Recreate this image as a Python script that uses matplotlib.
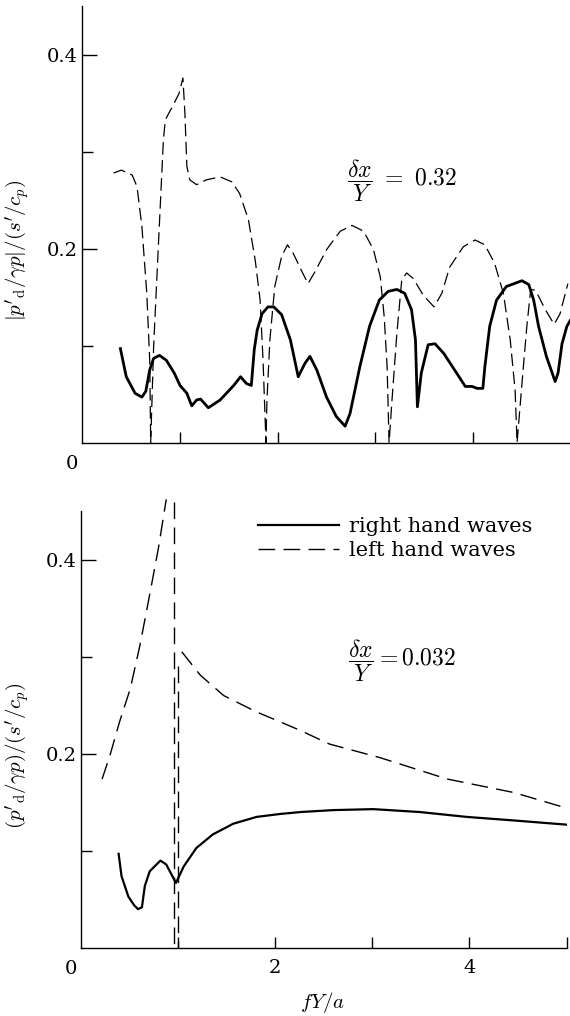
import matplotlib
matplotlib.use("Agg")
import matplotlib.pyplot as plt

plt.rcParams['font.family'] = ['DejaVu Serif']
plt.rcParams['mathtext.fontset'] = 'cm'
plt.rcParams['lines.scale_dashes'] = False

# top panel, dx/Y = 0.32
top_right_x = [0.39, 0.45, 0.54, 0.61, 0.65, 0.69, 0.73, 0.79, 0.86, 0.94, 1.00, 1.07, 1.12, 1.17,
               1.21, 1.29, 1.41, 1.55, 1.62, 1.68, 1.73, 1.76, 1.79, 1.84, 1.90, 1.96, 2.04, 2.13,
               2.21, 2.28, 2.33, 2.40, 2.50, 2.60, 2.69, 2.74, 2.84, 2.94, 3.04, 3.13, 3.22, 3.30,
               3.37, 3.41, 3.43, 3.47, 3.54, 3.61, 3.70, 3.83, 3.92, 3.99, 4.04, 4.10, 4.12, 4.17,
               4.24, 4.34, 4.50, 4.57, 4.62, 4.67, 4.75, 4.84, 4.87, 4.91, 4.96, 5.00]
top_right_y = [0.097, 0.068, 0.051, 0.047, 0.053, 0.075, 0.087, 0.090, 0.085, 0.072, 0.059, 0.051,
               0.038, 0.044, 0.045, 0.036, 0.044, 0.059, 0.068, 0.061, 0.059, 0.096, 0.116, 0.133,
               0.140, 0.140, 0.132, 0.106, 0.068, 0.082, 0.089, 0.075, 0.047, 0.027, 0.017, 0.030,
               0.078, 0.120, 0.147, 0.156, 0.158, 0.154, 0.137, 0.106, 0.037, 0.072, 0.101, 0.102,
               0.092, 0.072, 0.058, 0.058, 0.056, 0.056, 0.078, 0.120, 0.147, 0.161, 0.167, 0.163,
               0.147, 0.120, 0.089, 0.063, 0.072, 0.102, 0.120, 0.127]

top_left_x = [0.32, 0.40, 0.51, 0.56, 0.61, 0.66, 0.69, 0.70, 0.73, 0.78, 0.83, 0.85, 0.92, 0.99,
              1.03, 1.05, 1.07, 1.10, 1.17, 1.27, 1.41, 1.53, 1.61, 1.70, 1.77, 1.82, 1.85, 1.88,
              1.89, 1.92, 1.97, 2.04, 2.10, 2.16, 2.25, 2.31, 2.38, 2.50, 2.64, 2.76, 2.88, 2.98,
              3.05, 3.09, 3.12, 3.14, 3.17, 3.22, 3.27, 3.32, 3.39, 3.49, 3.60, 3.68, 3.76, 3.90,
              4.02, 4.12, 4.22, 4.31, 4.38, 4.43, 4.45, 4.50, 4.55, 4.59, 4.64, 4.74, 4.83, 4.89,
              4.97]
top_left_y = [0.278, 0.281, 0.276, 0.264, 0.223, 0.154, 0.085, 0.0, 0.099, 0.206, 0.312, 0.333,
              0.346, 0.360, 0.376, 0.340, 0.285, 0.271, 0.266, 0.271, 0.274, 0.269, 0.257, 0.230,
              0.188, 0.147, 0.085, 0.0, 0.044, 0.106, 0.161, 0.192, 0.204, 0.195, 0.176, 0.164,
              0.176, 0.199, 0.218, 0.224, 0.218, 0.199, 0.171, 0.130, 0.078, 0.0, 0.044, 0.113,
              0.168, 0.175, 0.169, 0.152, 0.140, 0.154, 0.181, 0.202, 0.209, 0.204, 0.185, 0.154,
              0.106, 0.054, 0.0, 0.061, 0.120, 0.158, 0.157, 0.137, 0.122, 0.133, 0.164]

# bottom panel, dx/Y = 0.032
bot_right_x = [0.39, 0.42, 0.49, 0.55, 0.59, 0.63, 0.66, 0.71, 0.82, 0.88, 0.98, 1.06, 1.19, 1.36,
               1.57, 1.81, 2.05, 2.26, 2.60, 3.01, 3.49, 3.97, 4.50, 5.00]
bot_right_y = [0.097, 0.074, 0.053, 0.044, 0.040, 0.042, 0.064, 0.079, 0.090, 0.086, 0.067, 0.084,
               0.103, 0.117, 0.128, 0.135, 0.138, 0.140, 0.142, 0.143, 0.140, 0.135, 0.131, 0.127]

bot_left_x1 = [0.22, 0.30, 0.40, 0.51, 0.61, 0.71, 0.80, 0.88]
bot_left_y1 = [0.174, 0.198, 0.233, 0.267, 0.312, 0.364, 0.412, 0.462]
bot_left_x2 = [1.04, 1.23, 1.47, 1.81, 2.05, 2.26, 2.56, 3.08, 3.77, 4.46, 5.00]
bot_left_y2 = [0.305, 0.281, 0.260, 0.243, 0.233, 0.224, 0.210, 0.196, 0.174, 0.160, 0.144]
asym_x1 = [0.96, 0.96]
asym_y1 = [0.459, 0.0]
asym_x2 = [1.005, 1.005]
asym_y2 = [0.29, 0.0]

W, H = 570, 1016
fig = plt.figure(figsize=(W / 100, H / 100), dpi=100)

ax1 = fig.add_axes([82.3 / W, 1 - 442.7 / H, 488.5 / W, 436.5 / H])
ax2 = fig.add_axes([80.7 / W, 1 - 948 / H, 486 / W, 437 / H])

dash_top = (9, 4)
dash_bot = (12, 6)

ax1.plot(top_right_x, top_right_y, color='black', lw=2.0, solid_joinstyle='round')
ax1.plot(top_left_x, top_left_y, color='black', lw=0.9, dashes=dash_top)

ax2.plot(bot_right_x, bot_right_y, color='black', lw=1.6, label='right hand waves',
         solid_joinstyle='round')
ax2.plot(bot_left_x1, bot_left_y1, color='black', lw=1.0, dashes=dash_bot,
         label='left hand waves', clip_on=False)
ax2.plot(bot_left_x2, bot_left_y2, color='black', lw=1.0, dashes=dash_bot)
ax2.plot(asym_x1, asym_y1, color='black', lw=1.0, dashes=dash_bot, clip_on=False)
ax2.plot(asym_x2, asym_y2, color='black', lw=1.0, dashes=dash_bot, clip_on=False)

for ax in (ax1, ax2):
    ax.set_xlim(0, 5)
    ax.set_ylim(0, 0.45)
    ax.spines['top'].set_visible(False)
    ax.spines['right'].set_visible(False)
    ax.spines['left'].set_linewidth(1.0)
    ax.spines['bottom'].set_linewidth(1.0)
    ax.set_yticks([0.2, 0.4])
    ax.set_yticklabels(['0.2', '0.4'])
    ax.set_yticks([0.1, 0.3], minor=True)
    ax.tick_params(axis='y', which='major', direction='in', length=11, width=1.0,
                   labelsize=14, pad=3)
    ax.tick_params(axis='y', which='minor', direction='in', length=8, width=1.0)
    ax.tick_params(axis='x', which='both', direction='in', length=8, width=1.0,
                   labelsize=14, pad=8)
    ax.annotate('0', xy=(0, 0), xytext=(-10, -21), textcoords='offset pixels',
                ha='center', va='center', fontsize=14, annotation_clip=False)

ax1.set_xticks([1, 2, 3, 4, 5])
ax1.set_xticklabels([])
ax2.set_xticks([2, 4])
ax2.set_xticklabels(['2', '4'])
ax2.set_xticks([1, 3, 5], minor=True)

ax1.set_ylabel(r"$|p'_{\rm d}/\gamma p|/(s'/c_p)$", fontsize=15)
ax2.set_ylabel(r"$(p'_{\rm d}/\gamma p)/(s'/c_p)$", fontsize=15)
ax1.yaxis.set_label_coords(-50 / 488.5, 0.44)
ax2.yaxis.set_label_coords(-49 / 486, 0.44)
ax2.set_xlabel(r"$fY/a$", fontsize=15)
ax2.xaxis.set_label_coords((323 - 80.7) / 486, -(990 - 948) / 437)

fig.text(402 / W, 1 - 181 / H, r"$\dfrac{\delta x}{Y}\ =\ 0.32$", fontsize=17,
         ha='center', va='center')
fig.text(402 / W, 1 - 661 / H, r"$\dfrac{\delta x}{Y} = 0.032$", fontsize=17,
         ha='center', va='center')

ax2.legend(loc='upper left', bbox_to_anchor=(258 / W, 1 - 517 / H),
           bbox_transform=fig.transFigure, frameon=False, fontsize=15,
           handlelength=3.9, handletextpad=0.45, labelspacing=0.25,
           borderpad=0, borderaxespad=0)

fig.savefig('out.png', dpi=100)
